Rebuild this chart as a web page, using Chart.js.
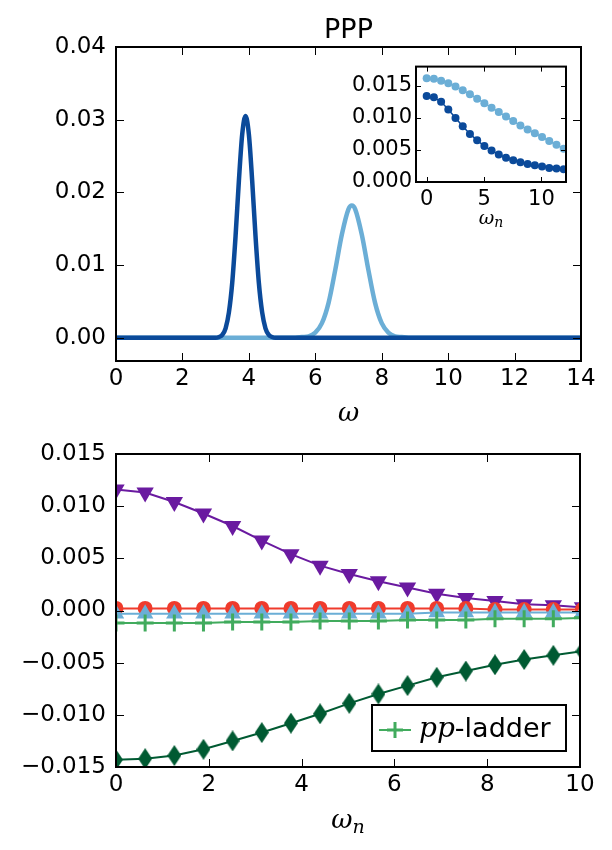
<!DOCTYPE html>
<html>
<head>
<meta charset="utf-8">
<script src="https://cdn.jsdelivr.net/npm/chart.js@4.4.1/dist/chart.umd.min.js"></script>
<style>
  body { margin: 0; background: #fff; }
  #wrap { position: relative; width: 612px; height: 850px; }
  canvas { position: absolute; }
</style>
</head>
<body>
<div id="wrap">
  <canvas id="topChart" width="612" height="430" style="left:0;top:0"></canvas>
  <canvas id="insetChart" width="250" height="190" style="left:330px;top:50px"></canvas>
  <canvas id="bottomChart" width="612" height="420" style="left:0;top:430px"></canvas>
</div>
<script>
const omegaDark = [0, 3.0, 3.1, 3.2, 3.3, 3.4, 3.5, 3.6, 3.7, 3.8, 3.9, 4.0, 4.1, 4.2, 4.3, 4.4, 4.5, 4.6, 4.7, 4.8, 14];
const specDark  = [0, 0, 0.0001, 0.0004, 0.0013, 0.0035, 0.0076, 0.0140, 0.0216, 0.0280, 0.0305, 0.0280, 0.0216, 0.0140, 0.0076, 0.0035, 0.0013, 0.0004, 0.0001, 0, 0];
const omegaLight = [0, 5.4, 5.6, 5.8, 6.0, 6.2, 6.4, 6.6, 6.8, 7.0, 7.1, 7.2, 7.4, 7.6, 7.8, 8.0, 8.2, 8.4, 8.6, 8.8, 14];
const specLight  = [0, 0, 0.0001, 0.0002, 0.0007, 0.0020, 0.0048, 0.0093, 0.0142, 0.0177, 0.0182, 0.0177, 0.0142, 0.0093, 0.0048, 0.0020, 0.0007, 0.0002, 0.0001, 0, 0];
const topXTicks = [0, 2, 4, 6, 8, 10, 12, 14];
const topYTicks = [0, 0.01, 0.02, 0.03, 0.04];

// inset : Matsubara axis
const insetWn = [0, 0.628, 1.257, 1.885, 2.513, 3.142, 3.770, 4.398, 5.027, 5.655, 6.283, 6.912, 7.540, 8.168, 8.796, 9.425, 10.053, 10.681, 11.310, 11.938];
const insetLight = [0.0162, 0.0161, 0.0158, 0.0154, 0.0149, 0.0143, 0.0137, 0.0130, 0.0123, 0.0116, 0.0109, 0.0102, 0.0095, 0.0088, 0.0082, 0.0076, 0.0070, 0.0064, 0.0058, 0.0052];
const insetDark  = [0.0134, 0.0132, 0.0125, 0.0113, 0.0100, 0.0087, 0.0075, 0.0065, 0.0056, 0.0049, 0.0043, 0.0038, 0.0034, 0.0031, 0.0028, 0.0026, 0.0024, 0.0022, 0.0021, 0.0020];
const insetXTicks = [0, 5, 10];
const insetYTicks = [0, 0.005, 0.010, 0.015];

// bottom panel
const wn = [0, 0.628, 1.257, 1.885, 2.513, 3.142, 3.770, 4.398, 5.027, 5.655, 6.283, 6.912, 7.540, 8.168, 8.796, 9.425, 10.053];
const purpleVals = [0.0116, 0.0113, 0.0104, 0.0093, 0.0081, 0.0067, 0.0054, 0.0043, 0.0035, 0.0028, 0.0022, 0.0016, 0.0012, 0.0009, 0.0006, 0.0005, 0.0003];
const redVals    = [0.0002, 0.0002, 0.0002, 0.0002, 0.0002, 0.0002, 0.0002, 0.0002, 0.0002, 0.0002, 0.0002, 0.0002, 0.0002, 0.0001, 0.0001, 0.0001, 0.0001];
const blueVals   = [-0.0003, -0.0003, -0.0003, -0.0003, -0.0003, -0.0003, -0.0003, -0.0003, -0.0003, -0.0003, -0.0003, -0.0002, -0.0002, -0.0002, -0.0002, -0.0002, -0.0002];
const ppLadder   = [-0.0012, -0.0012, -0.0012, -0.0012, -0.0011, -0.0011, -0.0011, -0.0010, -0.0010, -0.0010, -0.0009, -0.0009, -0.0009, -0.0008, -0.0008, -0.0008, -0.0007];
const greenVals  = [-0.0143, -0.0142, -0.0139, -0.0133, -0.0125, -0.0117, -0.0108, -0.0099, -0.0089, -0.0080, -0.0072, -0.0064, -0.0058, -0.0052, -0.0047, -0.0043, -0.0039];
const botXTicks = [0, 2, 4, 6, 8, 10];
const botYTicks = [-0.015, -0.010, -0.005, 0, 0.005, 0.010, 0.015];

Chart.defaults.font.family = "'DejaVu Sans', sans-serif";
Chart.defaults.color = '#000';

const pts = (xs, ys) => xs.map((x, i) => ({ x: x, y: ys[i] }));
const setTicks = vals => s => { s.ticks = vals.map(v => ({ value: v })); };
// matplotlib style labels with a real minus sign
const fixed = n => v => (v < 0 ? '\u2212' : '') + Math.abs(v).toFixed(n);

function axis(min, max, tickVals, fmt, size, pad, fit) {
  return {
    type: 'linear', min: min, max: max,
    grid: { display: false, drawTicks: false },
    border: { display: false },
    ticks: { font: { size: size }, padding: pad, autoSkip: false, maxRotation: 0, callback: fmt },
    afterBuildTicks: setTicks(tickVals),
    afterFit: s => { if (s.isHorizontal()) s.height = fit; else s.width = fit; }
  };
}

// frame with inward ticks on all four sides + free text
function framePlugin(tickLen, frameW, extra) {
  return {
    id: 'frame',
    beforeDatasetsDraw(chart) {
      const a = chart.chartArea, ctx = chart.ctx;
      ctx.save();
      ctx.fillStyle = '#fff';
      ctx.fillRect(a.left, a.top, a.width, a.height);
      ctx.restore();
    },
    afterDraw(chart) {
      const { ctx, chartArea: a, scales } = chart;
      ctx.save();
      ctx.strokeStyle = '#000';
      ctx.lineWidth = 1;
      ctx.beginPath();
      scales.x.ticks.forEach(t => {
        const px = Math.round(scales.x.getPixelForValue(t.value)) + 0.5;
        ctx.moveTo(px, a.bottom); ctx.lineTo(px, a.bottom - tickLen);
        ctx.moveTo(px, a.top); ctx.lineTo(px, a.top + tickLen);
      });
      scales.y.ticks.forEach(t => {
        const py = Math.round(scales.y.getPixelForValue(t.value)) + 0.5;
        ctx.moveTo(a.left, py); ctx.lineTo(a.left + tickLen, py);
        ctx.moveTo(a.right, py); ctx.lineTo(a.right - tickLen, py);
      });
      ctx.stroke();
      ctx.lineWidth = frameW;
      ctx.strokeRect(a.left, a.top, a.width, a.height);
      ctx.fillStyle = '#000';
      if (extra) extra(ctx, a);
      ctx.restore();
    }
  };
}

// pieces of text on one baseline, centred on x
function textRun(ctx, parts, x, y) {
  let w = 0;
  parts.forEach(p => { ctx.font = p[1]; w += ctx.measureText(p[0]).width; });
  let cx = x - w / 2;
  ctx.textAlign = 'left';
  ctx.textBaseline = 'alphabetic';
  parts.forEach(p => {
    ctx.font = p[1];
    ctx.fillText(p[0], cx, y + (p[2] || 0));
    cx += ctx.measureText(p[0]).width;
  });
}

function thinDiamond(w, h, color) {
  const c = document.createElement('canvas');
  c.width = w; c.height = h;
  const g = c.getContext('2d');
  g.fillStyle = color;
  g.beginPath();
  g.moveTo(w / 2, 0); g.lineTo(w, h / 2); g.lineTo(w / 2, h); g.lineTo(0, h / 2);
  g.closePath();
  g.fill();
  return c;
}

const serifIt = "italic 26px 'DejaVu Serif', serif";

// ---- top panel
new Chart(document.getElementById('topChart'), {
  type: 'line',
  data: {
    datasets: [
      { data: pts(omegaDark, specDark), borderColor: '#0b4a9a', borderWidth: 4.5, pointRadius: 0, cubicInterpolationMode: 'monotone', order: 1 },
      { data: pts(omegaLight, specLight), borderColor: '#6baed6', borderWidth: 4.5, pointRadius: 0, cubicInterpolationMode: 'monotone', order: 2 }
    ]
  },
  options: {
    responsive: false, animation: false,
    layout: { padding: { top: 47, right: 31, left: 0, bottom: 0 } },
    plugins: { legend: { display: false }, tooltip: { enabled: false } },
    scales: {
      x: axis(0, 14, topXTicks, v => String(v), 23, 4, 69),
      y: axis(-0.0032, 0.04, topYTicks, fixed(2), 23, 10, 116)
    }
  },
  plugins: [framePlugin(8, 2, (ctx, a) => {
    textRun(ctx, [['PPP', "27px 'DejaVu Sans', sans-serif"]], (a.left + a.right) / 2, 38);
    textRun(ctx, [['ω', serifIt]], (a.left + a.right) / 2, 421);
  })]
});

// ---- inset
new Chart(document.getElementById('insetChart'), {
  type: 'line',
  data: {
    datasets: [
      { data: pts(insetWn, insetDark), borderColor: '#0b4a9a', backgroundColor: '#0b4a9a', borderWidth: 1.5, pointRadius: 4, pointBorderWidth: 0, order: 1 },
      { data: pts(insetWn, insetLight), borderColor: '#6baed6', backgroundColor: '#6baed6', borderWidth: 1.5, pointRadius: 4, pointBorderWidth: 0, order: 2 }
    ]
  },
  options: {
    responsive: false, animation: false,
    layout: { padding: { top: 12, right: 14, left: 0, bottom: 0 } },
    plugins: { legend: { display: false }, tooltip: { enabled: false } },
    scales: {
      x: axis(-0.93, 12.14, insetXTicks, v => String(v), 21, 5, 58),
      y: axis(0, 0.018, insetYTicks, fixed(3), 21, 4, 86)
    }
  },
  plugins: [framePlugin(5, 2, (ctx, a) => {
    textRun(ctx, [['ω', "italic 19px 'DejaVu Serif', serif"], ['n', "italic 14px 'DejaVu Serif', serif", 3]], (a.left + a.right) / 2, 174);
  })]
});

// ---- bottom panel
const green = '#41ab5d';
new Chart(document.getElementById('bottomChart'), {
  type: 'line',
  data: {
    datasets: [
      { label: 'pp-ladder', data: pts(wn, ppLadder), borderColor: green, backgroundColor: green, borderWidth: 2, pointStyle: 'cross', pointRadius: 8.5, pointBorderWidth: 3, order: 1 },
      { data: pts(wn, blueVals), borderColor: '#6baed6', backgroundColor: '#6baed6', borderWidth: 2, pointStyle: 'triangle', pointRadius: 9.5, pointBorderWidth: 0, order: 2 },
      { data: pts(wn, redVals), borderColor: '#ef3b2c', backgroundColor: '#ef3b2c', borderWidth: 2, pointStyle: 'circle', pointRadius: 7.5, pointBorderWidth: 0, order: 3 },
      { data: pts(wn, purpleVals), borderColor: '#6a1aa0', backgroundColor: '#6a1aa0', borderWidth: 2, pointStyle: 'triangle', rotation: 180, pointRadius: 10, pointBorderWidth: 0, order: 4 },
      { data: pts(wn, greenVals), borderColor: '#005a32', backgroundColor: '#005a32', borderWidth: 2, pointStyle: thinDiamond(14, 21, '#005a32'), pointRadius: 8, order: 5 }
    ]
  },
  options: {
    responsive: false, animation: false,
    layout: { padding: { top: 24, right: 32, left: 0, bottom: 0 } },
    plugins: { legend: { display: false }, tooltip: { enabled: false } },
    scales: {
      x: axis(0, 10, botXTicks, v => String(v), 23, 4, 83),
      y: axis(-0.015, 0.015, botYTicks, fixed(3), 23, 10, 116)
    }
  },
  plugins: [framePlugin(8, 2, (ctx, a) => {
    textRun(ctx, [['ω', serifIt], ['n', "italic 19px 'DejaVu Serif', serif", 5]], (a.left + a.right) / 2, 398);
    // legend
    ctx.fillStyle = '#fff';
    ctx.fillRect(372, 275, 194, 46);
    ctx.lineWidth = 2;
    ctx.strokeRect(372, 275, 194, 46);
    ctx.strokeStyle = green;
    ctx.lineWidth = 2;
    ctx.beginPath(); ctx.moveTo(379, 300); ctx.lineTo(411, 300); ctx.stroke();
    ctx.lineWidth = 3;
    ctx.beginPath(); ctx.moveTo(395, 292); ctx.lineTo(395, 308); ctx.moveTo(387, 300); ctx.lineTo(403, 300); ctx.stroke();
    ctx.fillStyle = '#000';
    ctx.textAlign = 'left';
    ctx.textBaseline = 'alphabetic';
    ctx.font = "italic 28px 'DejaVu Serif', serif";
    ctx.fillText('pp', 419, 307);
    const w = ctx.measureText('pp').width;
    ctx.font = "27px 'DejaVu Sans', sans-serif";
    ctx.fillText('-ladder', 419 + w, 307);
  })]
});
</script>
</body>
</html>
